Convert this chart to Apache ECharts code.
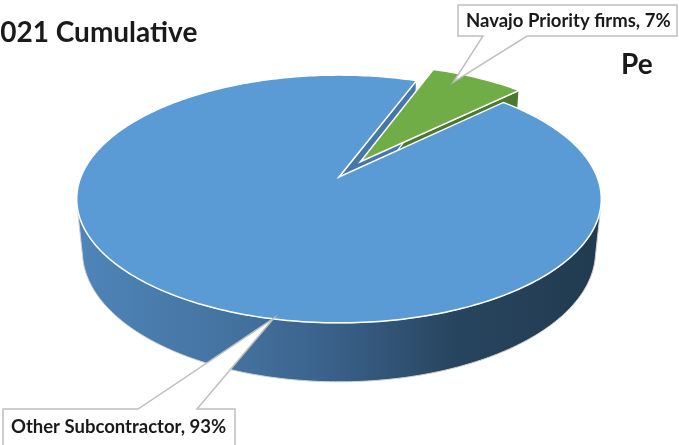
<!DOCTYPE html>
<html>
<head>
<meta charset="utf-8">
<script src="https://cdn.jsdelivr.net/npm/echarts@6/dist/echarts.min.js"></script>
<style>
  html, body { margin: 0; padding: 0; background: #ffffff; }
  #chart { width: 679px; height: 445px; }
</style>
</head>
<body>
<div id="chart"></div>
<script>
// Subcontract dollars by firm type, 2021 cumulative
const categories = ['Navajo Priority firms', 'Other Subcontractor'];
const shares = [7, 93];

// ---- presentation settings ----
const FONT = 'Lato, "Open Sans", sans-serif';
const SLICE_STYLE = {
  'Navajo Priority firms': { top: '#70AD47', side: '#4B7A2E', explode: 0.155 },
  'Other Subcontractor':   { top: '#5B9BD5', side: '#4677A8', explode: 0 }
};
// camera / disc geometry (disc radius = 1)
const VIEW = { cx: 339, cy: 177, focal: 1288, dist: 4.99, tilt: 27.7, thick: 0.2315, startAngle: 44.3 };
const CALLOUTS = {
  'Navajo Priority firms': { box: [458, 5, 219, 31], edge: 'bottom', base: [483, 527], tipShift: 4.5, tipRadius: 0.9, font: 'bold 18.5px ' + FONT },
  'Other Subcontractor':   { box: [3, 409, 232, 52], edge: 'top', base: [138, 197], tipShift: 21, tipRadius: 0.995, font: 'bold 18.5px ' + FONT }
};

const RAD = Math.PI / 180;
const sT = Math.sin(VIEW.tilt * RAD), cT = Math.cos(VIEW.tilt * RAD);
const camera = [0, VIEW.dist * sT, -VIEW.dist * cT];

function project(x, y, z) {
  const d = VIEW.dist + z * cT - y * sT;
  const up = y * cT + z * sT;
  return [VIEW.cx + VIEW.focal * x / d, VIEW.cy - VIEW.focal * up / d];
}
function facing(p, n) {
  return (camera[0] - p[0]) * n[0] + (camera[1] - p[1]) * n[1] + (camera[2] - p[2]) * n[2] > 0;
}

const total = shares.reduce((a, b) => a + b, 0);
const cumStart = [];
shares.reduce((acc, v, i) => { cumStart[i] = acc; return acc + v; }, 0);

const wallGradient = new echarts.graphic.LinearGradient(77, 0, 601, 0, [
  { offset: 0, color: '#4F85BA' },
  { offset: 0.3, color: '#44729F' },
  { offset: 0.5, color: '#395F88' },
  { offset: 0.72, color: '#28455F' },
  { offset: 1, color: '#213A4F' }
], true);

function renderSlice(params, api) {
  const i = params.dataIndex;
  const name = categories[i];
  const value = api.value(0);
  const st = SLICE_STYLE[name];
  const a0 = (VIEW.startAngle + cumStart[i] / total * 360) * RAD;
  const a1 = a0 + value / total * 360 * RAD;
  const mid = (a0 + a1) / 2;
  const ox = st.explode * Math.cos(mid), oz = st.explode * Math.sin(mid);
  const h = VIEW.thick;
  const children = [];

  // outer wall, only the parts turned toward the camera
  const steps = Math.max(8, Math.ceil((a1 - a0) / RAD));
  let run = [];
  const runs = [];
  for (let k = 0; k <= steps; k++) {
    const t = a0 + (a1 - a0) * k / steps;
    const c = Math.cos(t), s = Math.sin(t);
    if (facing([ox + c, -h / 2, oz + s], [c, 0, s])) run.push(t);
    else if (run.length) { runs.push(run); run = []; }
  }
  if (run.length) runs.push(run);
  runs.forEach(r => {
    if (r.length < 2) return;
    const topPts = r.map(t => project(ox + Math.cos(t), 0, oz + Math.sin(t)));
    const botPts = r.map(t => project(ox + Math.cos(t), -h, oz + Math.sin(t))).reverse();
    children.push({
      type: 'polygon', z2: 1,
      shape: { points: topPts.concat(botPts) },
      style: { fill: st.explode > 0 ? st.side : wallGradient, stroke: '#D0D0D0', lineWidth: 1 }
    });
  });

  // radial faces at both cut edges
  [[a0, [Math.sin(a0), 0, -Math.cos(a0)]], [a1, [-Math.sin(a1), 0, Math.cos(a1)]]].forEach(([a, n]) => {
    const c = Math.cos(a), s = Math.sin(a);
    const centre = [ox + c / 2, -h / 2, oz + s / 2];
    if (!facing(centre, n)) return;
    children.push({
      type: 'polygon', z2: 2,
      shape: { points: [project(ox, 0, oz), project(ox + c, 0, oz + s), project(ox + c, -h, oz + s), project(ox, -h, oz)] },
      style: { fill: st.side, stroke: '#FFFFFF', lineWidth: 1.2 }
    });
  });

  // top face (all tops sit above every side face)
  const top = [project(ox, 0, oz)];
  const n = Math.max(8, Math.ceil((a1 - a0) / RAD));
  for (let k = 0; k <= n; k++) {
    const t = a0 + (a1 - a0) * k / n;
    top.push(project(ox + Math.cos(t), 0, oz + Math.sin(t)));
  }
  children.push({
    type: 'polygon', z2: 10,
    shape: { points: top },
    style: { fill: st.top, stroke: '#FFFFFF', lineWidth: 1.5 }
  });

  // callout label with pointer
  const co = CALLOUTS[name];
  const ta = mid + co.tipShift * RAD;
  const tip = project(ox + co.tipRadius * Math.cos(ta), 0, oz + co.tipRadius * Math.sin(ta));
  const [bx, by, bw, bh] = co.box;
  let outline;
  if (co.edge === 'bottom') {
    outline = [[bx, by], [bx + bw, by], [bx + bw, by + bh], [co.base[1], by + bh], tip, [co.base[0], by + bh], [bx, by + bh]];
  } else {
    outline = [[bx, by], [co.base[0], by], tip, [co.base[1], by], [bx + bw, by], [bx + bw, by + bh], [bx, by + bh]];
  }
  children.push({
    type: 'polygon', z2: 40,
    shape: { points: outline },
    style: { fill: '#FFFFFF', stroke: '#BFBFBF', lineWidth: 1.5 }
  });
  const pct = Math.round(value / total * 100);
  children.push({
    type: 'text', z2: 41,
    style: {
      text: name + ', ' + pct + '%',
      x: bx + 8, y: co.edge === 'bottom' ? by + bh / 2 + 1 : by + 18,
      font: co.font, fill: '#1A1A1A',
      textAlign: 'left', textVerticalAlign: 'middle'
    }
  });

  return { type: 'group', children };
}

const chart = echarts.init(document.getElementById('chart'), null, { renderer: 'canvas' });
chart.setOption({
  animation: false,
  backgroundColor: '#FFFFFF',
  graphic: [
    { type: 'text', left: -16, top: 19, style: { text: '2021 Cumulative', font: 'bold 28px ' + FONT, fill: '#1A1A1A' } },
    { type: 'text', left: 621, top: 51, style: { text: 'Pe', font: 'bold 28px ' + FONT, fill: '#1A1A1A' } }
  ],
  series: [{
    type: 'custom',
    coordinateSystem: 'none',
    renderItem: renderSlice,
    data: categories.map((c, i) => ({ name: c, value: [shares[i]] }))
  }]
});
</script>
</body>
</html>
